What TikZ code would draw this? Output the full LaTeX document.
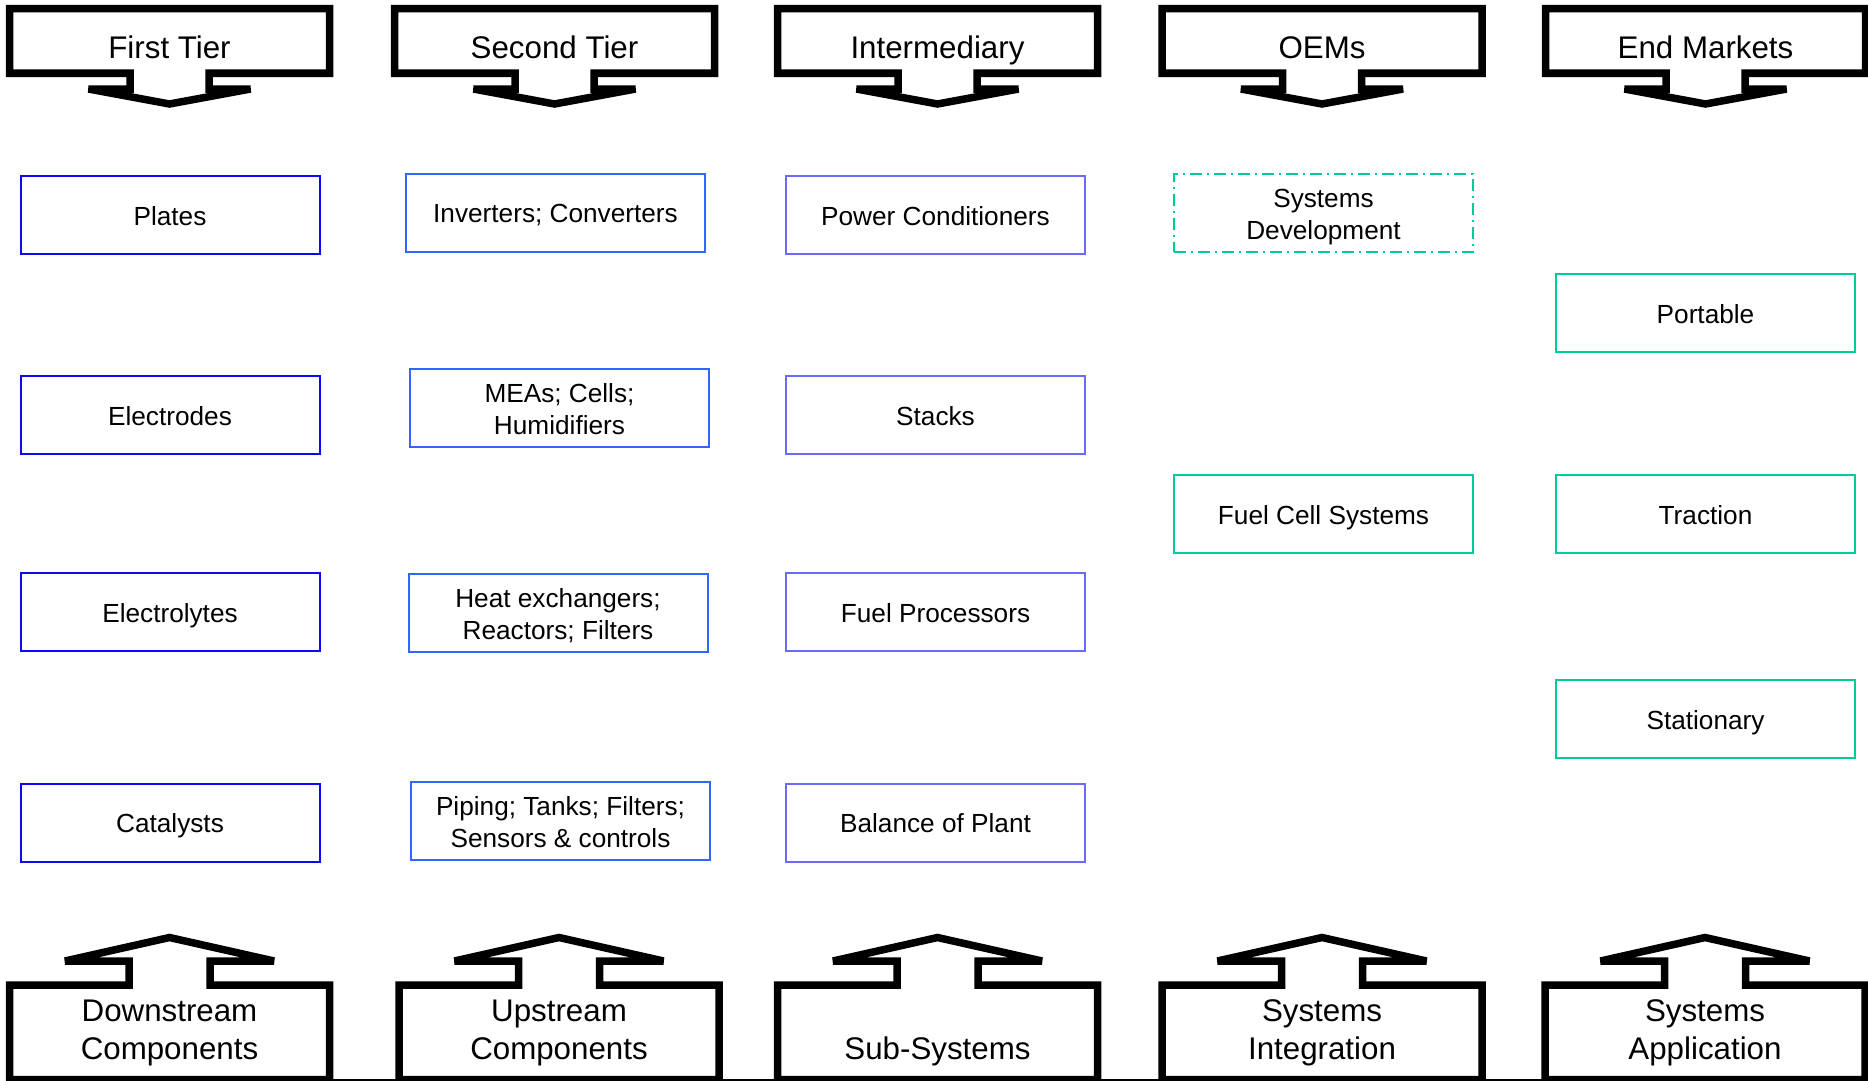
\documentclass[tikz,border=0pt]{standalone}
\usepackage{fontspec}
\setmainfont{Liberation Sans}
\usetikzlibrary{positioning}

\definecolor{tierblue}{HTML}{0A0AF5}
\definecolor{secblue}{HTML}{3366FF}
\definecolor{midblue}{HTML}{6A6AFF}
\definecolor{oemgreen}{HTML}{00CC99}
\definecolor{baseline}{HTML}{000080}

\begin{document}
\begin{tikzpicture}[x=1pt,y=-1pt,
  stage/.style={draw=black,line width=7.5pt,miter limit=5,fill=white},
  stagetext/.style={inner sep=0pt,align=center,font=\fontsize{31.3}{38}\selectfont},
  item/.style={draw,line width=2pt,fill=white,minimum width=299pt,minimum height=78pt,
    inner sep=0pt,align=center,font=\fontsize{26.2}{31.8}\selectfont},
  oneline/.style={text height=20pt,text depth=0pt},
  twoline/.style={text height=53pt,text depth=0pt}]

\useasboundingbox (0,0) rectangle (1868,1081);

% line under the bottom boxes
\draw[baseline,line width=3pt] (9.5,1080) -- (1865,1080);

% headers
\foreach \cx/\lbl/\nm in {169.5/First Tier/first,554.5/Second Tier/second,
    937.5/Intermediary/inter,1322/OEMs/oems,1705.5/End Markets/markets}{
  \draw[stage] (\cx-160,8.75) -- (\cx+160,8.75) -- (\cx+160,73.25) -- (\cx+39.5,73.25)
    -- (\cx+39.5,89) -- (\cx+81,89) -- (\cx,104) -- (\cx-81,89) -- (\cx-39.5,89)
    -- (\cx-39.5,73.25) -- (\cx-160,73.25) -- cycle;
  \node[stagetext,anchor=base] (\nm) at (\cx,59) {\lbl};
}

% footers
\foreach \cx/\lbl/\nm in {169.5/{Downstream\\Components}/down,559/{Upstream\\Components}/up,
    937.5/{Sub-Systems}/subsys,1322/{Systems\\Integration}/integ,1705/{Systems\\Application}/appl}{
  \draw[stage] (\cx-160,1079.5) -- (\cx-160,985) -- (\cx-40.5,985) -- (\cx-40.5,961)
    -- (\cx-104.5,961) -- (\cx,937.5) -- (\cx+104.5,961) -- (\cx+40.5,961)
    -- (\cx+40.5,985) -- (\cx+160,985) -- (\cx+160,1079.5) -- cycle;
  \node[stagetext,anchor=south] (\nm) at (\cx,1066) {\lbl};
}

% first tier
\node[item,oneline,draw=tierblue] (plates) at (170,215) {Plates};
\node[item,oneline,draw=tierblue] (electrodes) at (170,415) {Electrodes};
\node[item,oneline,draw=tierblue] (electrolytes) at (170,612) {Electrolytes};
\node[item,oneline,draw=tierblue] (catalysts) at (170,822.5) {Catalysts};

% second tier
\node[item,oneline,draw=secblue] (inverters) at (555.5,212.5) {Inverters; Converters};
\node[item,twoline,draw=secblue] (meas) at (559.5,407.5) {MEAs; Cells;\\Humidifiers};
\node[item,twoline,draw=secblue] (heatex) at (558,613) {Heat exchangers;\\Reactors; Filters};
\node[item,twoline,draw=secblue] (piping) at (560.5,821) {Piping; Tanks; Filters;\\Sensors \& controls};

% intermediary
\node[item,oneline,draw=midblue] (powercond) at (935.5,215) {Power Conditioners};
\node[item,oneline,draw=midblue] (stacks) at (935.5,415) {Stacks};
\node[item,oneline,draw=midblue] (fuelproc) at (935.5,612) {Fuel Processors};
\node[item,oneline,draw=midblue] (bop) at (935.5,822.5) {Balance of Plant};

% OEMs and end markets
\node[item,twoline,draw=oemgreen,dash pattern=on 12pt off 5pt on 2pt off 5pt] (sysdev) at (1323.5,213) {Systems\\Development};
\node[item,oneline,draw=oemgreen] (fcsys) at (1323.5,514) {Fuel Cell Systems};
\node[item,oneline,draw=oemgreen] (portable) at (1705.5,313) {Portable};
\node[item,oneline,draw=oemgreen] (traction) at (1705.5,514) {Traction};
\node[item,oneline,draw=oemgreen] (stationary) at (1705.5,719) {Stationary};

\end{tikzpicture}
\end{document}
